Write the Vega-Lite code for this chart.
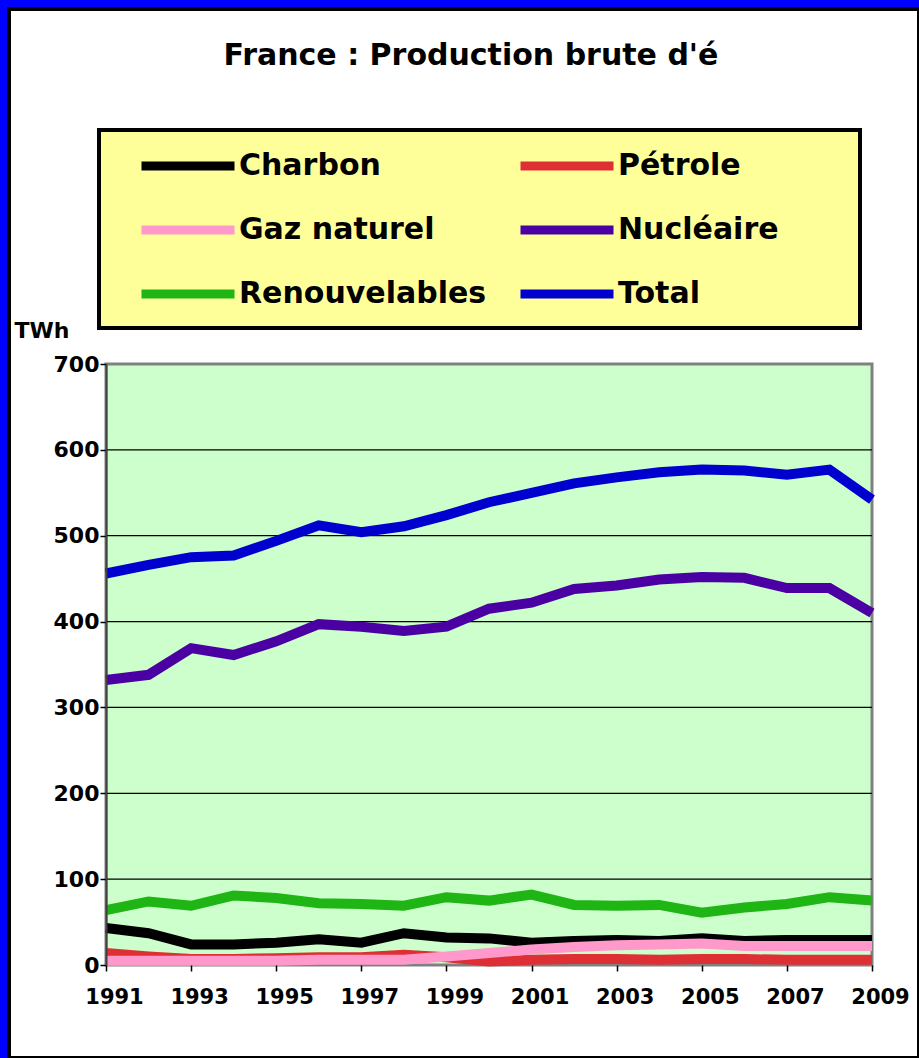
{
  "$schema": "https://vega.github.io/schema/vega-lite/v6.json",
  "autosize": {"type": "none"},
  "width": 910,
  "height": 1049,
  "padding": {"left": 9, "top": 9, "right": 0, "bottom": 0},
  "background": "#0000FF",
  "view": {"fill": "white", "stroke": "black", "strokeWidth": 4},
  "title": {
    "text": "France : Production brute d'é",
    "font": "DejaVu Sans",
    "fontSize": 30,
    "fontWeight": "bold",
    "color": "black",
    "anchor": "middle",
    "frame": "group",
    "baseline": "alphabetic",
    "offset": -58,
    "dy": 28,
    "dx": 7
  },
  "datasets": {
    "prod": [
      {"year": 1991, "Charbon": 43, "Pétrole": 14, "Gaz naturel": 5, "Nucléaire": 332, "Renouvelables": 64, "Total": 456},
      {"year": 1992, "Charbon": 37, "Pétrole": 10, "Gaz naturel": 5, "Nucléaire": 338, "Renouvelables": 74, "Total": 466},
      {"year": 1993, "Charbon": 24, "Pétrole": 7, "Gaz naturel": 5, "Nucléaire": 369, "Renouvelables": 69, "Total": 475},
      {"year": 1994, "Charbon": 24, "Pétrole": 7, "Gaz naturel": 5, "Nucléaire": 361, "Renouvelables": 81, "Total": 477},
      {"year": 1995, "Charbon": 26, "Pétrole": 8, "Gaz naturel": 5, "Nucléaire": 377, "Renouvelables": 78, "Total": 494},
      {"year": 1996, "Charbon": 30, "Pétrole": 9, "Gaz naturel": 6, "Nucléaire": 397, "Renouvelables": 72, "Total": 512},
      {"year": 1997, "Charbon": 26, "Pétrole": 9, "Gaz naturel": 6, "Nucléaire": 394, "Renouvelables": 71, "Total": 504},
      {"year": 1998, "Charbon": 37, "Pétrole": 12, "Gaz naturel": 6, "Nucléaire": 389, "Renouvelables": 69, "Total": 511},
      {"year": 1999, "Charbon": 32, "Pétrole": 9, "Gaz naturel": 10, "Nucléaire": 394, "Renouvelables": 79, "Total": 524},
      {"year": 2000, "Charbon": 31, "Pétrole": 4, "Gaz naturel": 14, "Nucléaire": 415, "Renouvelables": 75, "Total": 539},
      {"year": 2001, "Charbon": 26, "Pétrole": 6, "Gaz naturel": 18, "Nucléaire": 422, "Renouvelables": 82, "Total": 550},
      {"year": 2002, "Charbon": 28, "Pétrole": 7, "Gaz naturel": 21, "Nucléaire": 438, "Renouvelables": 70, "Total": 561},
      {"year": 2003, "Charbon": 29, "Pétrole": 7, "Gaz naturel": 23, "Nucléaire": 442, "Renouvelables": 69, "Total": 568},
      {"year": 2004, "Charbon": 28, "Pétrole": 6, "Gaz naturel": 24, "Nucléaire": 449, "Renouvelables": 70, "Total": 574},
      {"year": 2005, "Charbon": 31, "Pétrole": 7, "Gaz naturel": 25, "Nucléaire": 452, "Renouvelables": 61, "Total": 577},
      {"year": 2006, "Charbon": 28, "Pétrole": 7, "Gaz naturel": 22, "Nucléaire": 451, "Renouvelables": 67, "Total": 576},
      {"year": 2007, "Charbon": 29, "Pétrole": 6, "Gaz naturel": 22, "Nucléaire": 439, "Renouvelables": 71, "Total": 571},
      {"year": 2008, "Charbon": 29, "Pétrole": 6, "Gaz naturel": 22, "Nucléaire": 439, "Renouvelables": 79, "Total": 577},
      {"year": 2009, "Charbon": 29, "Pétrole": 6, "Gaz naturel": 22, "Nucléaire": 410, "Renouvelables": 75, "Total": 542}
    ],
    "grid": [{"g": 100}, {"g": 200}, {"g": 300}, {"g": 400}, {"g": 500}, {"g": 600}]
  },
  "layer": [
    {
      "data": {"values": [{}]},
      "mark": {"type": "rect", "fill": "#CCFFCC", "stroke": "#808080", "strokeWidth": 3},
      "encoding": {
        "x": {
          "datum": 1991,
          "type": "quantitative",
          "scale": {"domain": [1991, 2009], "range": [97, 863], "nice": false, "zero": false},
          "axis": {
            "values": [1991, 1993, 1995, 1997, 1999, 2001, 2003, 2005, 2007, 2009],
            "format": "d",
            "offset": -93,
            "domain": false,
            "grid": false,
            "tickSize": 6,
            "tickWidth": 1.5,
            "labelPadding": 15,
            "labelOffset": 8,
            "labelFontSize": 21,
            "labelFlush": false,
            "labelOverlap": false,
            "labelBound": false,
            "title": null,
            "zindex": 1
          }
        },
        "x2": {"datum": 2009},
        "y": {
          "datum": 0,
          "type": "quantitative",
          "scale": {"domain": [0, 700], "range": [956, 355], "nice": false, "zero": true},
          "axis": {
            "values": [0, 100, 200, 300, 400, 500, 600, 700],
            "offset": -97,
            "domain": true,
            "domainColor": "#404040",
            "domainWidth": 2,
            "grid": false,
            "tickSize": 6,
            "tickWidth": 1.5,
            "labelPadding": 1,
            "labelFontSize": 22,
            "labelFlush": false,
            "labelOverlap": false,
            "labelBound": false,
            "title": "TWh",
            "titleAngle": 0,
            "titleAlign": "left",
            "titleBaseline": "top",
            "titleX": -92,
            "titleY": 311,
            "titleFontSize": 22,
            "zindex": 1
          }
        },
        "y2": {"datum": 700}
      }
    },
    {
      "data": {"name": "grid"},
      "mark": {"type": "rule", "color": "black", "strokeWidth": 1.2},
      "encoding": {
        "y": {"field": "g", "type": "quantitative", "title": "TWh"},
        "x": {"datum": 1991, "type": "quantitative"},
        "x2": {"datum": 2009}
      }
    },
    {
      "data": {"name": "prod"},
      "transform": [
        {"fold": ["Charbon", "Pétrole", "Gaz naturel", "Nucléaire", "Renouvelables", "Total"], "as": ["serie", "val"]}
      ],
      "mark": {"type": "line", "strokeWidth": 10, "strokeJoin": "miter"},
      "encoding": {
        "x": {"field": "year", "type": "quantitative", "title": null},
        "y": {"field": "val", "type": "quantitative", "title": "TWh"},
        "color": {
          "field": "serie",
          "type": "nominal",
          "sort": ["Charbon", "Pétrole", "Gaz naturel", "Nucléaire", "Renouvelables", "Total"],
          "scale": {
            "domain": ["Charbon", "Pétrole", "Gaz naturel", "Nucléaire", "Renouvelables", "Total"],
            "range": ["#000000", "#DE2F35", "#FF99CC", "#4A00A3", "#1FB515", "#0000CF"]
          },
          "legend": {
            "orient": "none",
            "legendX": 90,
            "legendY": 121,
            "columns": 2,
            "direction": "horizontal",
            "title": null,
            "padding": 16,
            "symbolOffset": 22,
            "symbolType": "M-1,0H5M18.7,0",
            "symbolSize": 961,
            "symbolStrokeWidth": 9,
            "labelOffset": 62,
            "columnPadding": 7,
            "rowPadding": 26,
            "gridAlign": "all",
            "labelLimit": 500,
            "labelFont": "DejaVu Sans",
            "labelFontSize": 30,
            "labelFontWeight": "bold",
            "labelColor": "black",
            "fillColor": "#FFFF99",
            "strokeColor": "black"
          }
        }
      }
    }
  ],
  "config": {
    "legend": {"strokeWidth": 4},
    "axis": {
      "labelFont": "DejaVu Sans",
      "labelFontWeight": "bold",
      "labelColor": "black",
      "labelFontSize": 20,
      "tickColor": "black",
      "titleFont": "DejaVu Sans",
      "titleFontWeight": "bold",
      "titleColor": "black"
    }
  }
}
